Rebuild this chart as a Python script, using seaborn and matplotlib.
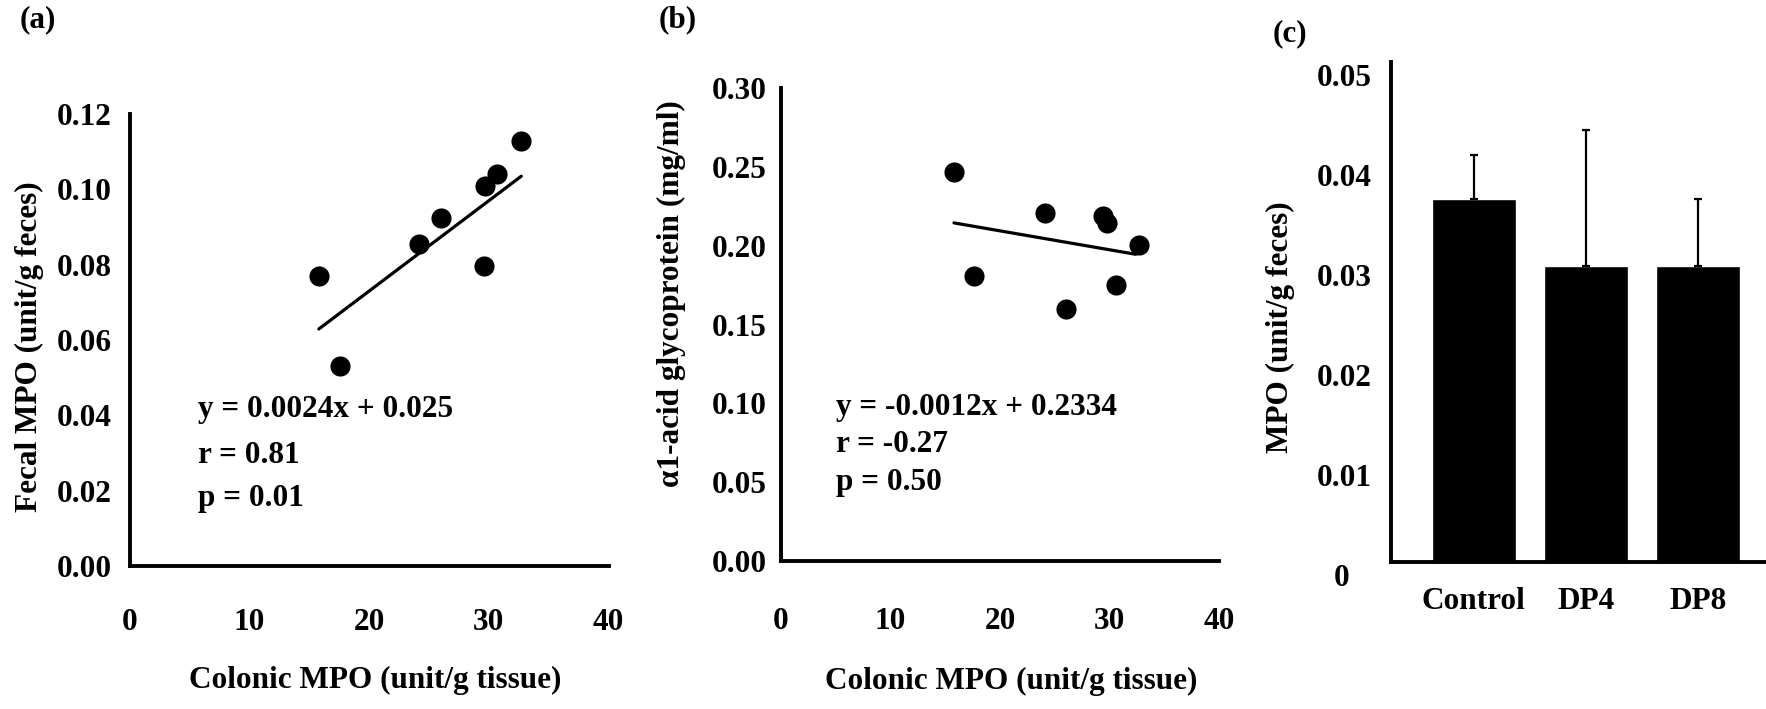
import numpy as np
import pandas as pd
import matplotlib
matplotlib.use("Agg")
import matplotlib.pyplot as plt
from matplotlib.transforms import ScaledTranslation
import seaborn as sns

# ---------------- data ----------------
# (a) Fecal MPO vs colonic MPO
colonic_a = [15.8, 17.6, 24.2, 26.0, 29.6, 29.7, 30.7, 32.7]
fecal_mpo = [0.077, 0.053, 0.0856, 0.0925, 0.0797, 0.101, 0.104, 0.1127]
slope_a, intercept_a = 0.0024, 0.025
stats_a = ["y = 0.0024x + 0.025", "r = 0.81", "p = 0.01"]

# (b) alpha1-acid glycoprotein vs colonic MPO
colonic_b = [15.8, 17.6, 24.1, 26.0, 29.4, 29.8, 30.6, 32.7]
agp = [0.2468, 0.181, 0.221, 0.160, 0.2185, 0.2145, 0.175, 0.2004]
slope_b, intercept_b = -0.0012, 0.2334
stats_b = ["y = -0.0012x + 0.2334", "r = -0.27", "p = 0.50"]

# (c) MPO by group
groups = ["Control", "DP4", "DP8"]
mpo_mean = [0.0363, 0.0296, 0.0296]
mpo_err = [0.0044, 0.0136, 0.0067]

# ---------------- style ----------------
sns.set_theme(style="white")
plt.rcParams["font.family"] = ["Liberation Serif", "DejaVu Serif"]
plt.rcParams["font.weight"] = "bold"
plt.rcParams["axes.labelweight"] = "bold"
for k in ["text.color", "axes.labelcolor", "xtick.color", "ytick.color",
          "axes.edgecolor"]:
    plt.rcParams[k] = "black"
FS = 22.5

W, H = 1766, 709
fig = plt.figure(figsize=(W / 100, H / 100), dpi=100)
fig.patch.set_facecolor("white")


def box(l, r, b, t):
    return [l / W, (H - b) / H, (r - l) / W, (b - t) / H]


def style_axes(ax, tick_len=5):
    for s in ["top", "right"]:
        ax.spines[s].set_visible(False)
    for s in ["left", "bottom"]:
        ax.spines[s].set_linewidth(2.8)
        ax.spines[s].set_color("black")
    ax.tick_params(direction="in", length=tick_len, width=2.2, colors="black",
                   labelcolor="black", labelsize=FS)
    for lab in ax.get_xticklabels() + ax.get_yticklabels():
        lab.set_fontweight("bold")
    ax.set_facecolor("white")
    ax.grid(False)


# ---------------- panel (a) ----------------
ax_a = fig.add_axes(box(129.6, 608.7, 566, 114))
df_a = pd.DataFrame({"x": colonic_a, "y": fecal_mpo})
sns.scatterplot(data=df_a, x="x", y="y", ax=ax_a, color="black", s=210,
                edgecolor="black", linewidth=0, zorder=3)
xa = np.array([min(colonic_a), max(colonic_a)])
sns.lineplot(x=xa, y=slope_a * xa + intercept_a, ax=ax_a, color="black",
             linewidth=2.3)
ax_a.set_xlim(0, 40)
ax_a.set_ylim(0, 0.12)
ax_a.set_xticks([0, 10, 20, 30, 40])
yt_a = np.arange(0, 0.121, 0.02)
ax_a.set_yticks(yt_a)
ax_a.set_yticklabels([f"{v:.2f}" for v in yt_a])
style_axes(ax_a)
ax_a.tick_params(axis="y", pad=13)
ax_a.tick_params(axis="x", pad=30)
ax_a.set_xlabel("Colonic MPO (unit/g tissue)", fontsize=FS, fontweight="bold",
                color="black")
ax_a.set_ylabel("Fecal MPO (unit/g feces)", fontsize=FS, fontweight="bold",
                color="black")
ax_a.xaxis.label.set_va("center")
ax_a.yaxis.label.set_va("center")
ax_a.xaxis.set_label_coords(0.513, -0.254)
ax_a.yaxis.set_label_coords(-0.209, 0.485)
for i, t in enumerate(stats_a):
    ax_a.text(5.7, [0.0415, 0.0293, 0.018][i], t, fontsize=FS,
              fontweight="bold", va="center", ha="left", color="black")
fig.text(20 / W, 1 - 20 / H, "(a)", fontsize=FS, fontweight="bold",
         va="center", ha="left", color="black")

# ---------------- panel (b) ----------------
ax_b = fig.add_axes(box(781, 1219, 561, 88))
df_b = pd.DataFrame({"x": colonic_b, "y": agp})
sns.scatterplot(data=df_b, x="x", y="y", ax=ax_b, color="black", s=210,
                edgecolor="black", linewidth=0, zorder=3)
xb = np.array([min(colonic_b), max(colonic_b) - 0.3])
sns.lineplot(x=xb, y=slope_b * xb + intercept_b, ax=ax_b, color="black",
             linewidth=2.3)
ax_b.set_xlim(0, 40)
ax_b.set_ylim(0, 0.30)
ax_b.set_xticks([0, 10, 20, 30, 40])
yt_b = np.arange(0, 0.301, 0.05)
ax_b.set_yticks(yt_b)
ax_b.set_yticklabels([f"{v:.2f}" for v in yt_b])
style_axes(ax_b)
ax_b.tick_params(axis="y", pad=10)
ax_b.tick_params(axis="x", pad=33)
ax_b.set_xlabel("Colonic MPO (unit/g tissue)", fontsize=FS, fontweight="bold",
                color="black")
ax_b.set_ylabel("\u03b11-acid glycoprotein (mg/ml)", fontsize=FS,
                fontweight="bold", color="black")
ax_b.xaxis.label.set_va("center")
ax_b.yaxis.label.set_va("center")
ax_b.xaxis.set_label_coords(0.525, -0.254)
ax_b.yaxis.set_label_coords(-0.249, 0.565)
for i, t in enumerate(stats_b):
    ax_b.text(5.0, [0.0976, 0.0736, 0.0495][i], t, fontsize=FS,
              fontweight="bold", va="center", ha="left", color="black")
fig.text(659 / W, 1 - 20 / H, "(b)", fontsize=FS, fontweight="bold",
         va="center", ha="left", color="black")

# ---------------- panel (c) ----------------
ax_c = fig.add_axes(box(1391, 1766, 562, 62))
df_c = pd.DataFrame({"group": groups, "mpo": mpo_mean})
sns.barplot(data=df_c, x="group", y="mpo", ax=ax_c, color="black",
            width=0.75, saturation=1, errorbar=None)
ax_c.errorbar(range(len(groups)), mpo_mean,
              yerr=[[0] * len(groups), mpo_err], fmt="none",
              ecolor="black", elinewidth=1.6, capsize=3, capthick=1.6)
ax_c.set_xlim(-0.74, 2.61)
ax_c.set_ylim(0, 0.05)
yt_c = [0, 0.01, 0.02, 0.03, 0.04, 0.05]
ax_c.set_yticks(yt_c)
ax_c.set_yticklabels(["0", "0.01", "0.02", "0.03", "0.04", "0.05"])
style_axes(ax_c, tick_len=8)
ax_c.tick_params(axis="x", length=0, pad=18)
ax_c.tick_params(axis="y", pad=14)
ax_c.set_xlabel("")
ax_c.set_ylabel("MPO (unit/g feces)", fontsize=FS, fontweight="bold",
                color="black")
ax_c.yaxis.label.set_va("center")
ax_c.yaxis.set_label_coords(-0.296, 0.47)
for i, lab in enumerate(ax_c.get_yticklabels()):
    dx = -22 / 100 if i == 0 else 0
    off = ScaledTranslation(dx, -13 / 100, fig.dpi_scale_trans)
    lab.set_transform(lab.get_transform() + off)
fig.text(1273 / W, 1 - 34 / H, "(c)", fontsize=FS, fontweight="bold",
         va="center", ha="left", color="black")

fig.savefig("out.png", dpi=100, facecolor="white")
